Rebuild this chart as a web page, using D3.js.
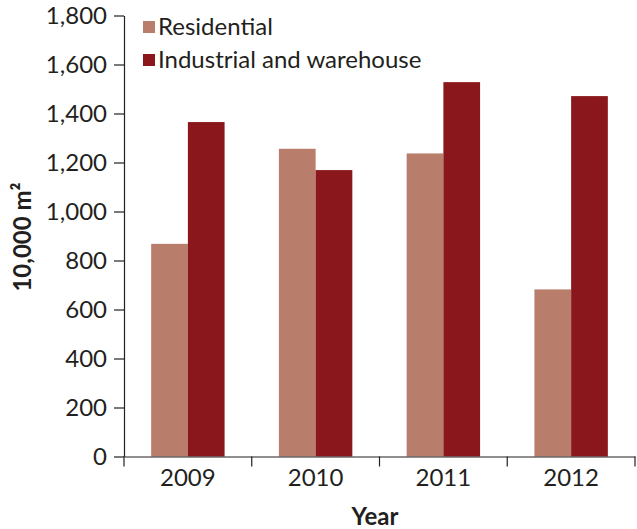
<!DOCTYPE html>
<html><head><meta charset="utf-8">
<script src="https://cdn.jsdelivr.net/npm/d3@7"></script>
<style>body{margin:0;background:#fff}svg{display:block}text{font-family:Lato,"Noto Sans",sans-serif;fill:#231f20}</style>
</head><body><svg id="c" width="637" height="529"></svg>
<script>
const years = ["2009","2010","2011","2012"];
const seriesNames = ["Residential","Industrial and warehouse"];
const residential = [868,1256,1237,682];
const industrial = [1365,1169,1528,1471];
const yTicks = [0,200,400,600,800,1000,1200,1400,1600,1800];
const colors = ["#b97d6b","#8a171b"];

const svg = d3.select("#c");
const mLeft = 124, mRight = 635, mTop = 15.5, mBottom = 456.5;
const y = d3.scaleLinear().domain([0,1800]).range([mBottom, mTop]);
const x0 = d3.scaleBand().domain(years).range([mLeft,mRight]).padding(0);
const x1 = d3.scaleBand().domain(seriesNames).range([0,x0.bandwidth()]).paddingInner(0).paddingOuter(0.74);
const data = years.map((yr,i)=>({year:yr, vals:[residential[i], industrial[i]]}));

const g = svg.append("g");
g.selectAll("g.yr").data(data).join("g").attr("transform",d=>`translate(${x0(d.year)},0)`)
 .selectAll("rect").data(d=>d.vals.map((v,j)=>({v,j}))).join("rect")
 .attr("x",d=>x1(seriesNames[d.j])).attr("width",x1.bandwidth())
 .attr("y",d=>y(d.v)).attr("height",d=>y(0)-y(d.v)).attr("fill",d=>colors[d.j]);

const yAxis = svg.append("g").attr("transform",`translate(${mLeft},0)`)
 .call(d3.axisLeft(y).tickValues(yTicks).tickSize(10).tickPadding(7).tickFormat(d3.format(",")).tickSizeOuter(0));
yAxis.selectAll("text").style("font-size","24px");
const xAxis = svg.append("g").attr("transform",`translate(0,${mBottom})`)
 .call(d3.axisBottom(x0).tickSize(0).tickPadding(12).tickSizeOuter(0));
xAxis.selectAll("text").style("font-size","24px");
xAxis.selectAll(".tick line").remove();
xAxis.append("g").selectAll("line").data(d3.range(years.length+1)).join("line")
 .attr("x1",i=>mLeft+i*x0.step()).attr("x2",i=>mLeft+i*x0.step()).attr("y1",0).attr("y2",10)
 .attr("stroke","#231f20");
svg.selectAll(".domain,.tick line").attr("stroke","#231f20").attr("stroke-width",1.2);
xAxis.selectAll("line").attr("stroke-width",1.2);

svg.append("text").attr("x",375).attr("y",525).attr("text-anchor","middle")
 .style("font-size","24px").style("font-weight","bold").text("Year");
svg.append("text").attr("transform","translate(31,237) rotate(-90)").attr("text-anchor","middle")
 .style("font-size","24px").style("font-weight","bold").text("10,000 m²");

const leg = svg.append("g");
seriesNames.forEach((s,i)=>{
  leg.append("rect").attr("x",143).attr("y",21+i*33).attr("width",12).attr("height",12).attr("fill",colors[i]);
  leg.append("text").attr("x",158).attr("y",35+i*33).style("font-size","24px").text(s);
});
</script></body></html>
